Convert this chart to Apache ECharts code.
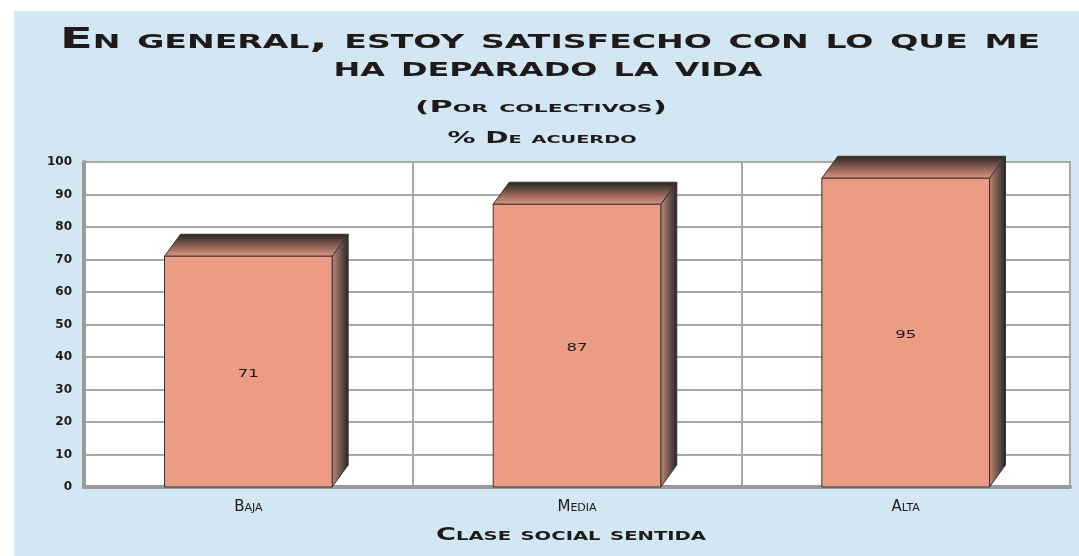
<!DOCTYPE html>
<html>
<head>
<meta charset="utf-8">
<script src="https://cdn.jsdelivr.net/npm/echarts@6/dist/echarts.min.js"></script>
<style>
html,body{margin:0;padding:0;background:#ffffff;width:1079px;height:556px;overflow:hidden;}
#c{position:absolute;left:14px;top:11px;width:1065px;height:545px;background:#d3e6f4;}
</style>
</head>
<body>
<div id="c"></div>
<script>
// ---- data ----
var categories = ['Baja', 'Media', 'Alta'];
var values = [71, 87, 95];
var yTicks = [0, 10, 20, 30, 40, 50, 60, 70, 80, 90, 100];
var titleLine1 = 'En general, estoy satisfecho con lo que me';
var titleLine2 = 'ha deparado la vida';
var subtitle1 = '(Por colectivos)';
var subtitle2 = '% De acuerdo';
var xAxisName = 'Clase social sentida';

// ---- helpers ----
var OX = 14, OY = 11;
var mctx = document.createElement('canvas').getContext('2d');
function fitText(text, font, cx, cy, width) {
  mctx.font = font;
  var w = mctx.measureText(text).width;
  return {
    type: 'text',
    x: cx - OX, y: cy - OY,
    scaleX: width / w,
    style: {
      text: text, x: 0, y: 0, font: font, fill: '#1e1a1a',
      align: 'center', textAlign: 'center',
      verticalAlign: 'middle', textVerticalAlign: 'middle'
    }
  };
}

var SALMON = '#ec9c84';
var DARK = '#262323';

var chart = echarts.init(document.getElementById('c'), null, {renderer: 'canvas'});
var option = {
  backgroundColor: 'transparent',
  animation: false,
  graphic: [
    fitText(titleLine1, 'small-caps bold 29px "DejaVu Sans"', 550, 40, 980),
    fitText(titleLine2, 'small-caps bold 29px "DejaVu Sans"', 548, 68, 429),
    fitText(subtitle1, 'small-caps bold 16px "DejaVu Sans"', 541, 108, 252),
    fitText(subtitle2, 'small-caps bold 16px "DejaVu Sans"', 542, 139, 189),
    fitText(xAxisName, 'small-caps bold 18px "DejaVu Sans"', 571, 535, 270)
  ],
  grid: {
    left: 84 - OX, right: 9, top: 162 - OY, bottom: 69,
    show: true, backgroundColor: '#ffffff', borderColor: '#a3a3a3', borderWidth: 2
  },
  xAxis: {
    type: 'category',
    data: categories,
    axisTick: {show: false},
    axisLine: {show: true, lineStyle: {color: '#9a9a9a', width: 4}},
    splitLine: {show: true, lineStyle: {color: '#a8a8a8', width: 2}},
    axisLabel: {
      margin: 13, color: '#1e1a1a', fontSize: 15, fontFamily: 'DejaVu Sans',
      fontStyle: 'small-caps'
    }
  },
  yAxis: {
    type: 'value', min: 0, max: 100, interval: 10,
    axisTick: {show: false},
    axisLine: {show: true, lineStyle: {color: '#9a9a9a', width: 4}},
    splitLine: {show: true, lineStyle: {color: '#a8a8a8', width: 2}},
    axisLabel: {
      margin: 12, color: '#1e1a1a', fontSize: 12, fontWeight: 'bold', fontFamily: 'DejaVu Sans',
      formatter: function (v) { return yTicks.indexOf(v) >= 0 ? String(v) : ''; }
    }
  },
  series: [{
    type: 'custom',
    data: values.map(function (v, i) { return [i, v]; }),
    encode: {x: 0, y: 1},
    renderItem: function (params, api) {
      var xi = api.value(0), v = api.value(1);
      var top = api.coord([xi, v]);
      var base = api.coord([xi, 0]);
      var bw = api.size([1, 0])[0] * 0.51;
      var l = top[0] - bw / 2, r = top[0] + bw / 2, t = top[1], b = base[1];
      var dx = 16, dy = -22;
      return {
        type: 'group',
        children: [
          {
            type: 'polygon',
            shape: {points: [[r, t], [r + dx, t + dy], [r + dx, b + dy], [r, b]]},
            style: {
              fill: new echarts.graphic.LinearGradient(0, 0, 1, 0, [
                {offset: 0, color: '#c08a7a'}, {offset: 1, color: DARK}
              ]),
              stroke: '#333', lineWidth: 1
            }
          },
          {
            type: 'polygon',
            shape: {points: [[l, t], [l + dx, t + dy], [r + dx, t + dy], [r, t]]},
            style: {
              fill: new echarts.graphic.LinearGradient(0, 0, 0, 1, [
                {offset: 0, color: DARK}, {offset: 1, color: '#e39781'}
              ]),
              stroke: '#333', lineWidth: 1
            }
          },
          {
            type: 'rect',
            shape: {x: l, y: t, width: bw, height: b - t},
            style: {fill: SALMON, stroke: '#3a3030', lineWidth: 1}
          },
          {
            type: 'text',
            x: top[0], y: (t + b) / 2 + 3,
            scaleX: 1.5,
            style: {
              text: String(v), x: 0, y: 0, font: '11px "DejaVu Sans"', fill: '#1e1a1a',
              align: 'center', verticalAlign: 'middle'
            }
          }
        ]
      };
    }
  }]
};
chart.setOption(option);
</script>
</body>
</html>
